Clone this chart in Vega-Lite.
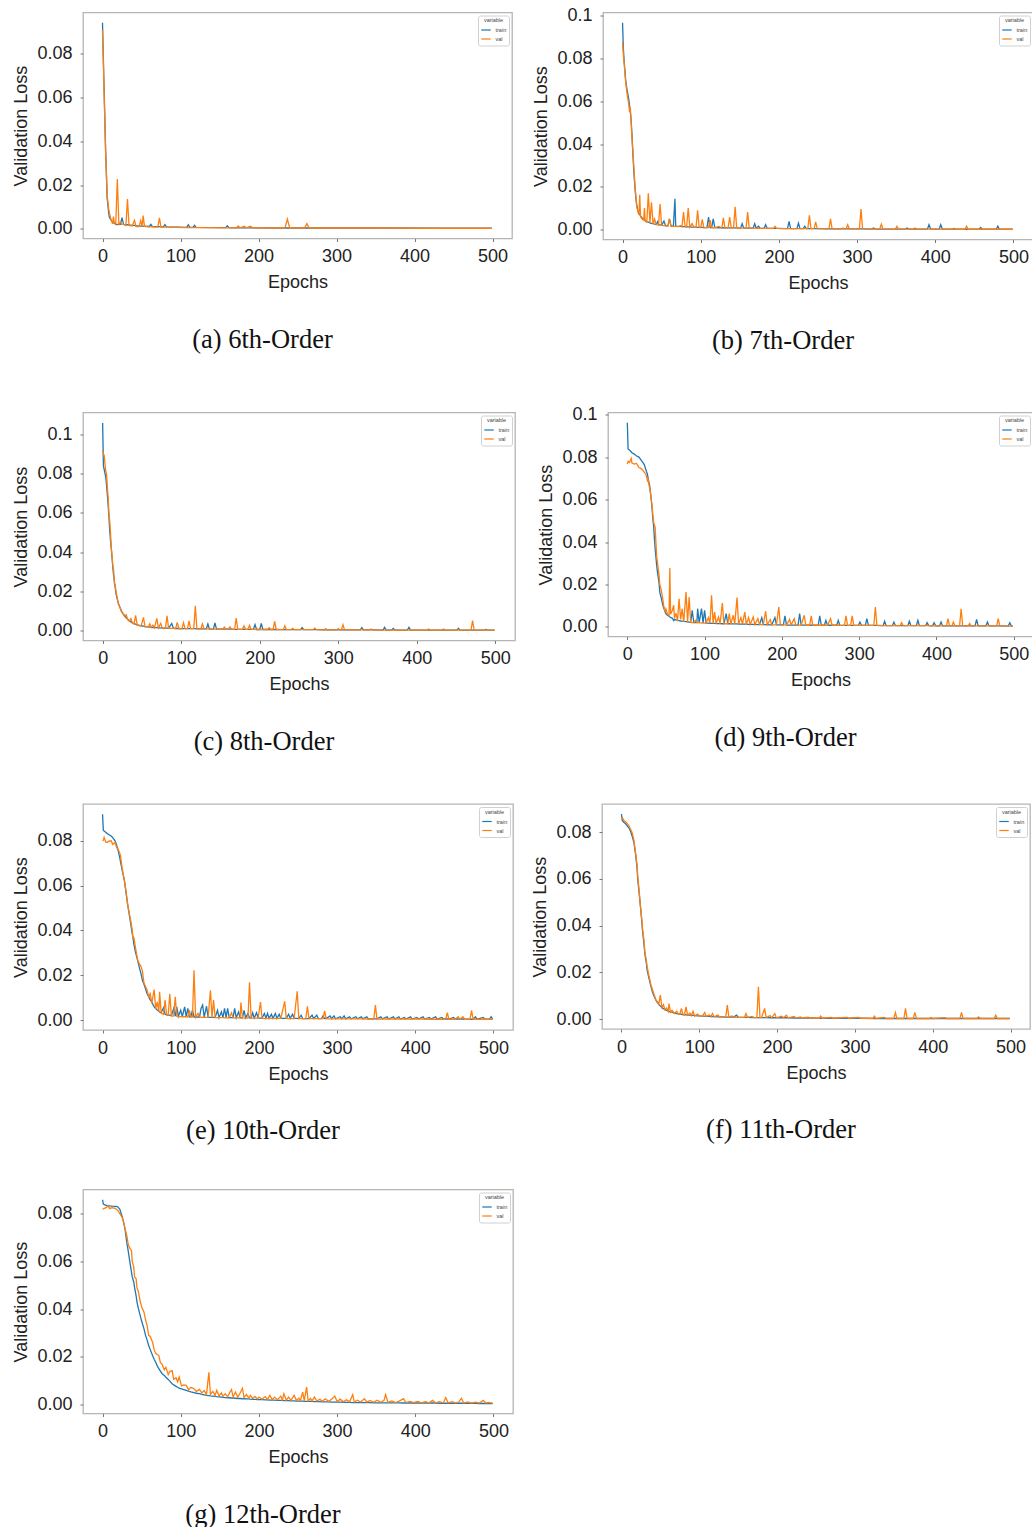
{
"$schema": "https://vega.github.io/schema/vega-lite/v6.json",
"background": "white",
"padding": {"left": 12, "top": 5.5, "right": 0, "bottom": 0},
"config": {
  "font": "Liberation Sans",
  "view": {"stroke": "#b5b5b5", "strokeWidth": 1.3},
  "axis": {"domain": false, "grid": false, "tickSize": 3, "tickColor": "#777", "labelFontSize": 18, "labelColor": "#222", "titleFontSize": 18, "titleFontWeight": "normal", "titleColor": "#222", "labelFont": "Liberation Sans", "titleFont": "Liberation Sans"},
  "axisX": {"labelPadding": 6, "titlePadding": 8},
  "axisY": {"labelPadding": 8, "titlePadding": 6},
  "legend": {"orient": "top-right", "offset": 3, "padding": 2.5, "fillColor": "white", "strokeColor": "#d0d0d0", "cornerRadius": 2, "titleFontSize": 5.5, "titleFontWeight": "normal", "titleColor": "#444", "labelFontSize": 5.5, "labelColor": "#444", "symbolType": "stroke", "symbolSize": 90, "symbolStrokeWidth": 1.2, "rowPadding": 0, "titlePadding": 1, "titleAnchor": "middle", "labelOffset": 4},
  "title": {"font": "Liberation Serif", "fontSize": 26.5, "fontWeight": "normal", "color": "#111", "orient": "bottom", "anchor": "middle", "frame": "bounds", "offset": 35}
},
"datasets": {
"a": [
{"e":0,"train":0.0943,"val":0.091},{"e":2,"train":0.065,"val":0.063},{"e":4,"train":0.036,"val":0.035},{"e":6,"train":0.014,"val":0.015},{"e":8,"train":0.007,"val":0.009},{"e":9,"train":0.005,"val":0.007},{"e":11,"train":0.004,"val":0.004},{"e":13,"train":0.003,"val":0.0022},{"e":14,"train":0.0028,"val":0.0055},{"e":15,"train":0.0025,"val":0.003},{"e":17,"train":0.002,"val":0.002},{"e":19,"train":0.002,"val":0.0227},{"e":21,"train":0.002,"val":0.002},{"e":23,"train":0.002,"val":0.003},{"e":25,"train":0.005,"val":0.002},{"e":27,"train":0.002,"val":0.002},{"e":30,"train":0.0018,"val":0.0015},{"e":32,"train":0.0018,"val":0.0136},{"e":34,"train":0.0017,"val":0.0015},{"e":38,"train":0.0015,"val":0.0012},{"e":41,"train":0.0015,"val":0.0038},{"e":43,"train":0.0013,"val":0.001},{"e":47,"train":0.0013,"val":0.001},{"e":49,"train":0.0012,"val":0.0037},{"e":51,"train":0.0012,"val":0.001},{"e":52,"train":0.0012,"val":0.006},{"e":54,"train":0.0011,"val":0.001},{"e":60,"train":0.001,"val":0.0008},{"e":62,"train":0.002,"val":0.0008},{"e":64,"train":0.0009,"val":0.0008},{"e":71,"train":0.0009,"val":0.0007},{"e":73,"train":0.0009,"val":0.0049},{"e":75,"train":0.0008,"val":0.0007},{"e":78,"train":0.0008,"val":0.0007},{"e":80,"train":0.0018,"val":0.0007},{"e":82,"train":0.0008,"val":0.0007},{"e":108,"train":0.0006,"val":0.0005},{"e":110,"train":0.0018,"val":0.0005},{"e":112,"train":0.0006,"val":0.0005},{"e":116,"train":0.0006,"val":0.0005},{"e":118,"train":0.0015,"val":0.0005},{"e":120,"train":0.0006,"val":0.0005},{"e":158,"train":0.0005,"val":0.0004},{"e":160,"train":0.0013,"val":0.0004},{"e":162,"train":0.0005,"val":0.0004},{"e":172,"train":0.0004,"val":0.0004},{"e":174,"train":0.0004,"val":0.0012},{"e":176,"train":0.0004,"val":0.0004},{"e":182,"train":0.0004,"val":0.0011},{"e":184,"train":0.0004,"val":0.0004},{"e":190,"train":0.0004,"val":0.0011},{"e":192,"train":0.0004,"val":0.0004},{"e":234,"train":0.0003,"val":0.0003},{"e":237,"train":0.0003,"val":0.0044},{"e":240,"train":0.0003,"val":0.0003},{"e":259,"train":0.0003,"val":0.0003},{"e":262,"train":0.0003,"val":0.0023},{"e":265,"train":0.0003,"val":0.0003},{"e":350,"train":0.0003,"val":0.0003},{"e":430,"train":0.0002,"val":0.0002},{"e":499,"train":0.0002,"val":0.0002}
],
"b": [
{"e":0,"train":0.0968,"val":0.0878},{"e":1,"train":0.085,"val":0.082},{"e":2,"train":0.079,"val":0.078},{"e":4,"train":0.07,"val":0.069},{"e":5,"train":0.067,"val":0.066},{"e":6,"train":0.065,"val":0.063},{"e":7,"train":0.063,"val":0.061},{"e":8,"train":0.061,"val":0.0585},{"e":9,"train":0.058,"val":0.055},{"e":10,"train":0.055,"val":0.057},{"e":11,"train":0.051,"val":0.05},{"e":12,"train":0.045,"val":0.043},{"e":13,"train":0.037,"val":0.038},{"e":14,"train":0.03,"val":0.032},{"e":15,"train":0.024,"val":0.026},{"e":16,"train":0.019,"val":0.02},{"e":17,"train":0.015,"val":0.016},{"e":18,"train":0.012,"val":0.011},{"e":19,"train":0.01,"val":0.0095},{"e":20,"train":0.0085,"val":0.008},{"e":21,"train":0.0075,"val":0.007},{"e":22,"train":0.007,"val":0.0163},{"e":23,"train":0.0065,"val":0.006},{"e":25,"train":0.0055,"val":0.005},{"e":27,"train":0.0048,"val":0.0045},{"e":28,"train":0.0045,"val":0.0101},{"e":29,"train":0.0042,"val":0.004},{"e":31,"train":0.0038,"val":0.0035},{"e":33,"train":0.0035,"val":0.017},{"e":35,"train":0.0032,"val":0.003},{"e":37,"train":0.003,"val":0.0128},{"e":39,"train":0.0028,"val":0.0026},{"e":41,"train":0.0026,"val":0.005},{"e":43,"train":0.0025,"val":0.0023},{"e":45,"train":0.0038,"val":0.0022},{"e":46,"train":0.0023,"val":0.0021},{"e":48,"train":0.0022,"val":0.012},{"e":50,"train":0.0021,"val":0.002},{"e":53,"train":0.004,"val":0.0019},{"e":55,"train":0.0019,"val":0.0018},{"e":58,"train":0.0018,"val":0.0017},{"e":60,"train":0.005,"val":0.005},{"e":62,"train":0.0017,"val":0.0016},{"e":65,"train":0.0016,"val":0.0015},{"e":67,"train":0.0145,"val":0.0015},{"e":68,"train":0.0016,"val":0.0015},{"e":72,"train":0.0015,"val":0.0014},{"e":74,"train":0.0015,"val":0.0019},{"e":76,"train":0.0014,"val":0.0014},{"e":78,"train":0.0014,"val":0.0082},{"e":80,"train":0.0014,"val":0.0013},{"e":82,"train":0.0013,"val":0.0013},{"e":84,"train":0.0013,"val":0.0101},{"e":86,"train":0.0013,"val":0.0012},{"e":89,"train":0.0012,"val":0.0028},{"e":91,"train":0.0012,"val":0.0012},{"e":94,"train":0.0012,"val":0.0011},{"e":96,"train":0.0011,"val":0.009},{"e":98,"train":0.0011,"val":0.0011},{"e":100,"train":0.0011,"val":0.001},{"e":102,"train":0.0011,"val":0.0048},{"e":104,"train":0.001,"val":0.001},{"e":108,"train":0.001,"val":0.001},{"e":110,"train":0.0059,"val":0.001},{"e":112,"train":0.001,"val":0.0045},{"e":114,"train":0.001,"val":0.0009},{"e":116,"train":0.005,"val":0.0009},{"e":118,"train":0.001,"val":0.0009},{"e":123,"train":0.0009,"val":0.0015},{"e":127,"train":0.0009,"val":0.0009},{"e":129,"train":0.0009,"val":0.0055},{"e":131,"train":0.0009,"val":0.0008},{"e":135,"train":0.0008,"val":0.0008},{"e":137,"train":0.0008,"val":0.0059},{"e":139,"train":0.0008,"val":0.0008},{"e":142,"train":0.0008,"val":0.0008},{"e":144,"train":0.0008,"val":0.0107},{"e":146,"train":0.0008,"val":0.0007},{"e":151,"train":0.0007,"val":0.0007},{"e":153,"train":0.0028,"val":0.0007},{"e":155,"train":0.0007,"val":0.0007},{"e":158,"train":0.0007,"val":0.0007},{"e":160,"train":0.0007,"val":0.0082},{"e":162,"train":0.0007,"val":0.0007},{"e":167,"train":0.0007,"val":0.0007},{"e":169,"train":0.0028,"val":0.0007},{"e":171,"train":0.0007,"val":0.0006},{"e":174,"train":0.0016,"val":0.0006},{"e":176,"train":0.0006,"val":0.0006},{"e":181,"train":0.0006,"val":0.0006},{"e":183,"train":0.0023,"val":0.0006},{"e":185,"train":0.0006,"val":0.0006},{"e":193,"train":0.0006,"val":0.0006},{"e":195,"train":0.0006,"val":0.0016},{"e":197,"train":0.0006,"val":0.0006},{"e":211,"train":0.0005,"val":0.0005},{"e":213,"train":0.0039,"val":0.0005},{"e":215,"train":0.0005,"val":0.0005},{"e":223,"train":0.0005,"val":0.0005},{"e":225,"train":0.0031,"val":0.0005},{"e":227,"train":0.0005,"val":0.0005},{"e":231,"train":0.0005,"val":0.0005},{"e":233,"train":0.0016,"val":0.0005},{"e":235,"train":0.0005,"val":0.0005},{"e":237,"train":0.0005,"val":0.0005},{"e":239,"train":0.0005,"val":0.0067},{"e":241,"train":0.0005,"val":0.0005},{"e":245,"train":0.0005,"val":0.0005},{"e":247,"train":0.0005,"val":0.0036},{"e":249,"train":0.0005,"val":0.0005},{"e":264,"train":0.0004,"val":0.0004},{"e":266,"train":0.0004,"val":0.0051},{"e":268,"train":0.0004,"val":0.0004},{"e":280,"train":0.0004,"val":0.0004},{"e":282,"train":0.0004,"val":0.0008},{"e":284,"train":0.0004,"val":0.0004},{"e":286,"train":0.0004,"val":0.0004},{"e":288,"train":0.0004,"val":0.0023},{"e":290,"train":0.0004,"val":0.0004},{"e":303,"train":0.0004,"val":0.0004},{"e":305,"train":0.0004,"val":0.0096},{"e":307,"train":0.0004,"val":0.0004},{"e":319,"train":0.0003,"val":0.0003},{"e":321,"train":0.0008,"val":0.0003},{"e":323,"train":0.0003,"val":0.0003},{"e":329,"train":0.0003,"val":0.0003},{"e":331,"train":0.0003,"val":0.0026},{"e":333,"train":0.0003,"val":0.0003},{"e":349,"train":0.0003,"val":0.0003},{"e":351,"train":0.0003,"val":0.0016},{"e":353,"train":0.0003,"val":0.0003},{"e":362,"train":0.0003,"val":0.0003},{"e":364,"train":0.0008,"val":0.0003},{"e":366,"train":0.0003,"val":0.0003},{"e":372,"train":0.0003,"val":0.0003},{"e":374,"train":0.0003,"val":0.0008},{"e":376,"train":0.0003,"val":0.0003},{"e":390,"train":0.0003,"val":0.0003},{"e":392,"train":0.0023,"val":0.0003},{"e":394,"train":0.0003,"val":0.0003},{"e":405,"train":0.0003,"val":0.0003},{"e":407,"train":0.0023,"val":0.0003},{"e":409,"train":0.0003,"val":0.0003},{"e":422,"train":0.0002,"val":0.0002},{"e":424,"train":0.0006,"val":0.0002},{"e":426,"train":0.0002,"val":0.0002},{"e":438,"train":0.0002,"val":0.0002},{"e":440,"train":0.0002,"val":0.0016},{"e":442,"train":0.0002,"val":0.0002},{"e":456,"train":0.0002,"val":0.0002},{"e":458,"train":0.001,"val":0.0002},{"e":460,"train":0.0002,"val":0.0002},{"e":478,"train":0.0002,"val":0.0002},{"e":480,"train":0.0016,"val":0.0002},{"e":482,"train":0.0002,"val":0.0002},{"e":499,"train":0.0002,"val":0.0002}
],
"c": [
{"e":0,"train":0.1057,"val":0.0917},{"e":1,"train":0.0838,"val":0.09},{"e":2,"train":0.082,"val":0.089},{"e":3,"train":0.08,"val":0.085},{"e":4,"train":0.078,"val":0.081},{"e":5,"train":0.074,"val":0.0795},{"e":6,"train":0.069,"val":0.073},{"e":7,"train":0.064,"val":0.0677},{"e":8,"train":0.058,"val":0.06},{"e":9,"train":0.051,"val":0.0558},{"e":10,"train":0.046,"val":0.05},{"e":11,"train":0.042,"val":0.042},{"e":12,"train":0.037,"val":0.038},{"e":13,"train":0.032,"val":0.033},{"e":14,"train":0.028,"val":0.031},{"e":15,"train":0.025,"val":0.024},{"e":16,"train":0.022,"val":0.023},{"e":17,"train":0.019,"val":0.02},{"e":18,"train":0.017,"val":0.018},{"e":20,"train":0.014,"val":0.0135},{"e":22,"train":0.0118,"val":0.012},{"e":24,"train":0.01,"val":0.0095},{"e":26,"train":0.0087,"val":0.0085},{"e":28,"train":0.0076,"val":0.0072},{"e":30,"train":0.0066,"val":0.0081},{"e":32,"train":0.0058,"val":0.0055},{"e":34,"train":0.005,"val":0.0048},{"e":36,"train":0.0045,"val":0.0062},{"e":38,"train":0.004,"val":0.0038},{"e":40,"train":0.0036,"val":0.0034},{"e":42,"train":0.0033,"val":0.0078},{"e":44,"train":0.003,"val":0.0029},{"e":47,"train":0.0027,"val":0.0025},{"e":49,"train":0.0025,"val":0.0024},{"e":52,"train":0.0023,"val":0.0068},{"e":54,"train":0.0021,"val":0.002},{"e":58,"train":0.0019,"val":0.0018},{"e":60,"train":0.0018,"val":0.0035},{"e":62,"train":0.0017,"val":0.0017},{"e":64,"train":0.0016,"val":0.0028},{"e":66,"train":0.0016,"val":0.0015},{"e":69,"train":0.0015,"val":0.0063},{"e":71,"train":0.0014,"val":0.0014},{"e":74,"train":0.0014,"val":0.0037},{"e":76,"train":0.0013,"val":0.0013},{"e":80,"train":0.0013,"val":0.0013},{"e":82,"train":0.0013,"val":0.0076},{"e":84,"train":0.0012,"val":0.0012},{"e":88,"train":0.0037,"val":0.0012},{"e":90,"train":0.0012,"val":0.0012},{"e":93,"train":0.0011,"val":0.0011},{"e":95,"train":0.0011,"val":0.0042},{"e":97,"train":0.0011,"val":0.0011},{"e":101,"train":0.001,"val":0.001},{"e":103,"train":0.001,"val":0.004},{"e":105,"train":0.001,"val":0.001},{"e":108,"train":0.001,"val":0.001},{"e":110,"train":0.001,"val":0.005},{"e":112,"train":0.001,"val":0.001},{"e":116,"train":0.001,"val":0.001},{"e":118,"train":0.001,"val":0.0127},{"e":120,"train":0.0009,"val":0.0009},{"e":125,"train":0.0009,"val":0.0009},{"e":127,"train":0.0009,"val":0.0034},{"e":129,"train":0.0009,"val":0.0009},{"e":132,"train":0.0009,"val":0.0009},{"e":134,"train":0.0034,"val":0.0009},{"e":136,"train":0.0008,"val":0.0008},{"e":141,"train":0.0008,"val":0.0008},{"e":143,"train":0.0039,"val":0.0008},{"e":145,"train":0.0008,"val":0.0008},{"e":153,"train":0.0008,"val":0.0008},{"e":155,"train":0.0008,"val":0.0018},{"e":157,"train":0.0008,"val":0.0008},{"e":160,"train":0.0008,"val":0.0008},{"e":162,"train":0.0008,"val":0.0019},{"e":164,"train":0.0008,"val":0.0008},{"e":168,"train":0.0007,"val":0.0007},{"e":170,"train":0.0007,"val":0.0064},{"e":172,"train":0.0007,"val":0.0007},{"e":178,"train":0.0007,"val":0.0007},{"e":180,"train":0.0007,"val":0.0025},{"e":182,"train":0.0007,"val":0.0007},{"e":185,"train":0.0007,"val":0.0007},{"e":187,"train":0.0007,"val":0.0027},{"e":189,"train":0.0007,"val":0.0007},{"e":192,"train":0.0007,"val":0.0007},{"e":194,"train":0.0031,"val":0.0007},{"e":196,"train":0.0006,"val":0.0006},{"e":200,"train":0.0006,"val":0.0006},{"e":202,"train":0.0037,"val":0.0006},{"e":204,"train":0.0006,"val":0.0006},{"e":210,"train":0.0006,"val":0.0006},{"e":212,"train":0.0006,"val":0.0015},{"e":214,"train":0.0006,"val":0.0006},{"e":217,"train":0.0006,"val":0.0006},{"e":219,"train":0.0006,"val":0.0047},{"e":221,"train":0.0006,"val":0.0006},{"e":230,"train":0.0005,"val":0.0005},{"e":232,"train":0.0005,"val":0.0025},{"e":234,"train":0.0005,"val":0.0005},{"e":240,"train":0.0005,"val":0.0005},{"e":242,"train":0.0005,"val":0.0012},{"e":244,"train":0.0005,"val":0.0005},{"e":252,"train":0.0005,"val":0.0005},{"e":254,"train":0.0016,"val":0.0005},{"e":256,"train":0.0005,"val":0.0005},{"e":268,"train":0.0005,"val":0.0005},{"e":270,"train":0.0005,"val":0.0013},{"e":272,"train":0.0005,"val":0.0005},{"e":282,"train":0.0004,"val":0.0004},{"e":284,"train":0.0004,"val":0.0011},{"e":286,"train":0.0004,"val":0.0004},{"e":298,"train":0.0004,"val":0.0004},{"e":300,"train":0.0004,"val":0.0011},{"e":302,"train":0.0004,"val":0.0004},{"e":304,"train":0.0004,"val":0.0004},{"e":306,"train":0.0004,"val":0.003},{"e":308,"train":0.0004,"val":0.0004},{"e":328,"train":0.0004,"val":0.0004},{"e":330,"train":0.0015,"val":0.0004},{"e":332,"train":0.0004,"val":0.0004},{"e":340,"train":0.0004,"val":0.0004},{"e":342,"train":0.0004,"val":0.0008},{"e":344,"train":0.0004,"val":0.0004},{"e":357,"train":0.0003,"val":0.0003},{"e":359,"train":0.0017,"val":0.0003},{"e":361,"train":0.0003,"val":0.0003},{"e":368,"train":0.0003,"val":0.0003},{"e":370,"train":0.0011,"val":0.0003},{"e":372,"train":0.0003,"val":0.0003},{"e":388,"train":0.0003,"val":0.0003},{"e":390,"train":0.0017,"val":0.0003},{"e":392,"train":0.0003,"val":0.0003},{"e":413,"train":0.0003,"val":0.0003},{"e":415,"train":0.0003,"val":0.0008},{"e":417,"train":0.0003,"val":0.0003},{"e":432,"train":0.0003,"val":0.0003},{"e":434,"train":0.0003,"val":0.0008},{"e":436,"train":0.0003,"val":0.0003},{"e":451,"train":0.0003,"val":0.0003},{"e":453,"train":0.0012,"val":0.0003},{"e":455,"train":0.0003,"val":0.0003},{"e":469,"train":0.0003,"val":0.0003},{"e":471,"train":0.0003,"val":0.0051},{"e":473,"train":0.0003,"val":0.0003},{"e":486,"train":0.0003,"val":0.0003},{"e":488,"train":0.0006,"val":0.0003},{"e":490,"train":0.0003,"val":0.0003},{"e":499,"train":0.0003,"val":0.0003}
],
"d": [
{"e":0,"train":0.0962,"val":0.0767},{"e":1,"train":0.0838,"val":0.078},{"e":3,"train":0.0832,"val":0.0775},{"e":5,"train":0.0825,"val":0.0794},{"e":6,"train":0.082,"val":0.0772},{"e":9,"train":0.0814,"val":0.0767},{"e":12,"train":0.0805,"val":0.077},{"e":15,"train":0.08,"val":0.0751},{"e":17,"train":0.079,"val":0.0748},{"e":20,"train":0.0775,"val":0.0738},{"e":22,"train":0.0765,"val":0.0728},{"e":24,"train":0.074,"val":0.072},{"e":26,"train":0.072,"val":0.0689},{"e":27,"train":0.07,"val":0.0695},{"e":28,"train":0.068,"val":0.067},{"e":29,"train":0.0665,"val":0.065},{"e":30,"train":0.063,"val":0.0634},{"e":31,"train":0.06,"val":0.06},{"e":32,"train":0.056,"val":0.0571},{"e":33,"train":0.051,"val":0.053},{"e":34,"train":0.0477,"val":0.0493},{"e":35,"train":0.042,"val":0.048},{"e":36,"train":0.0368,"val":0.047},{"e":37,"train":0.033,"val":0.04},{"e":38,"train":0.029,"val":0.033},{"e":39,"train":0.0258,"val":0.0305},{"e":41,"train":0.021,"val":0.0243},{"e":42,"train":0.0164,"val":0.02},{"e":44,"train":0.0135,"val":0.0172},{"e":46,"train":0.0102,"val":0.013},{"e":47,"train":0.009,"val":0.0102},{"e":49,"train":0.007,"val":0.007},{"e":50,"train":0.0062,"val":0.0085},{"e":52,"train":0.0055,"val":0.006},{"e":54,"train":0.005,"val":0.0055},{"e":55,"train":0.0047,"val":0.0277},{"e":56,"train":0.0045,"val":0.006},{"e":58,"train":0.0042,"val":0.0075},{"e":60,"train":0.003,"val":0.0102},{"e":61,"train":0.0035,"val":0.004},{"e":63,"train":0.0033,"val":0.0065},{"e":65,"train":0.0031,"val":0.0028},{"e":67,"train":0.003,"val":0.0133},{"e":69,"train":0.0028,"val":0.0035},{"e":71,"train":0.0027,"val":0.0085},{"e":73,"train":0.0026,"val":0.0025},{"e":76,"train":0.0025,"val":0.0164},{"e":78,"train":0.0024,"val":0.0022},{"e":80,"train":0.0023,"val":0.0141},{"e":82,"train":0.0022,"val":0.0021},{"e":84,"train":0.0078,"val":0.002},{"e":86,"train":0.0021,"val":0.002},{"e":88,"train":0.0021,"val":0.0031},{"e":90,"train":0.0021,"val":0.002},{"e":91,"train":0.0086,"val":0.002},{"e":93,"train":0.002,"val":0.0019},{"e":96,"train":0.0086,"val":0.0019},{"e":98,"train":0.0019,"val":0.0018},{"e":100,"train":0.0078,"val":0.0018},{"e":102,"train":0.0018,"val":0.0018},{"e":105,"train":0.0018,"val":0.0044},{"e":107,"train":0.0017,"val":0.0017},{"e":109,"train":0.0017,"val":0.0149},{"e":111,"train":0.0017,"val":0.0016},{"e":113,"train":0.0017,"val":0.007},{"e":115,"train":0.0016,"val":0.0016},{"e":118,"train":0.0016,"val":0.0047},{"e":120,"train":0.0016,"val":0.0015},{"e":123,"train":0.0015,"val":0.0113},{"e":125,"train":0.0015,"val":0.0015},{"e":128,"train":0.0063,"val":0.0015},{"e":130,"train":0.0015,"val":0.0015},{"e":132,"train":0.0015,"val":0.0063},{"e":134,"train":0.0014,"val":0.0014},{"e":137,"train":0.0014,"val":0.0055},{"e":139,"train":0.0014,"val":0.0014},{"e":142,"train":0.0014,"val":0.0138},{"e":144,"train":0.0013,"val":0.0013},{"e":147,"train":0.0013,"val":0.0044},{"e":149,"train":0.0013,"val":0.0013},{"e":152,"train":0.0013,"val":0.007},{"e":154,"train":0.0013,"val":0.0012},{"e":157,"train":0.0012,"val":0.0044},{"e":159,"train":0.0012,"val":0.0012},{"e":163,"train":0.0012,"val":0.0047},{"e":165,"train":0.0012,"val":0.0011},{"e":169,"train":0.0011,"val":0.0039},{"e":171,"train":0.0011,"val":0.0011},{"e":174,"train":0.0044,"val":0.0011},{"e":176,"train":0.0011,"val":0.0011},{"e":179,"train":0.0011,"val":0.0074},{"e":181,"train":0.0011,"val":0.001},{"e":185,"train":0.001,"val":0.0035},{"e":187,"train":0.001,"val":0.001},{"e":191,"train":0.0044,"val":0.001},{"e":193,"train":0.001,"val":0.001},{"e":196,"train":0.001,"val":0.0094},{"e":198,"train":0.001,"val":0.001},{"e":202,"train":0.001,"val":0.001},{"e":204,"train":0.0052,"val":0.001},{"e":206,"train":0.0009,"val":0.0009},{"e":210,"train":0.0009,"val":0.0035},{"e":212,"train":0.0009,"val":0.0009},{"e":216,"train":0.0009,"val":0.0039},{"e":218,"train":0.0009,"val":0.0009},{"e":221,"train":0.0009,"val":0.0009},{"e":223,"train":0.0063,"val":0.0009},{"e":225,"train":0.0009,"val":0.0009},{"e":229,"train":0.0009,"val":0.0055},{"e":231,"train":0.0008,"val":0.0008},{"e":236,"train":0.0008,"val":0.0008},{"e":238,"train":0.0008,"val":0.0052},{"e":240,"train":0.0008,"val":0.0008},{"e":247,"train":0.0008,"val":0.0008},{"e":249,"train":0.0052,"val":0.0008},{"e":251,"train":0.0008,"val":0.0008},{"e":255,"train":0.0008,"val":0.0008},{"e":257,"train":0.0031,"val":0.0008},{"e":259,"train":0.0008,"val":0.0008},{"e":263,"train":0.0008,"val":0.0039},{"e":265,"train":0.0008,"val":0.0008},{"e":271,"train":0.0008,"val":0.0008},{"e":273,"train":0.0031,"val":0.0008},{"e":275,"train":0.0007,"val":0.0007},{"e":281,"train":0.0007,"val":0.0007},{"e":283,"train":0.0007,"val":0.0052},{"e":285,"train":0.0007,"val":0.0007},{"e":289,"train":0.0007,"val":0.0007},{"e":291,"train":0.0007,"val":0.0052},{"e":293,"train":0.0007,"val":0.0007},{"e":299,"train":0.0007,"val":0.0007},{"e":301,"train":0.0023,"val":0.0007},{"e":303,"train":0.0007,"val":0.0007},{"e":308,"train":0.0007,"val":0.0007},{"e":310,"train":0.0039,"val":0.0007},{"e":312,"train":0.0007,"val":0.0007},{"e":319,"train":0.0007,"val":0.0007},{"e":321,"train":0.0007,"val":0.0094},{"e":323,"train":0.0007,"val":0.0007},{"e":331,"train":0.0006,"val":0.0006},{"e":333,"train":0.0027,"val":0.0006},{"e":335,"train":0.0006,"val":0.0006},{"e":343,"train":0.0006,"val":0.0006},{"e":345,"train":0.0023,"val":0.0006},{"e":347,"train":0.0006,"val":0.0006},{"e":353,"train":0.0006,"val":0.0006},{"e":355,"train":0.0006,"val":0.002},{"e":357,"train":0.0006,"val":0.0006},{"e":363,"train":0.0006,"val":0.0006},{"e":365,"train":0.0027,"val":0.0006},{"e":367,"train":0.0006,"val":0.0006},{"e":374,"train":0.0006,"val":0.0006},{"e":376,"train":0.0031,"val":0.0006},{"e":378,"train":0.0006,"val":0.0006},{"e":386,"train":0.0006,"val":0.0006},{"e":388,"train":0.002,"val":0.0006},{"e":390,"train":0.0006,"val":0.0006},{"e":395,"train":0.0005,"val":0.0005},{"e":397,"train":0.002,"val":0.0005},{"e":399,"train":0.0005,"val":0.0005},{"e":404,"train":0.0005,"val":0.0005},{"e":406,"train":0.0023,"val":0.0005},{"e":408,"train":0.0005,"val":0.0005},{"e":413,"train":0.0005,"val":0.0005},{"e":415,"train":0.0005,"val":0.0039},{"e":417,"train":0.0005,"val":0.0005},{"e":420,"train":0.0005,"val":0.0005},{"e":422,"train":0.0005,"val":0.0023},{"e":424,"train":0.0005,"val":0.0005},{"e":430,"train":0.0005,"val":0.0005},{"e":432,"train":0.0005,"val":0.0086},{"e":434,"train":0.0005,"val":0.0005},{"e":441,"train":0.0005,"val":0.0005},{"e":443,"train":0.0005,"val":0.0016},{"e":445,"train":0.0005,"val":0.0005},{"e":450,"train":0.0005,"val":0.0005},{"e":452,"train":0.0035,"val":0.0005},{"e":454,"train":0.0005,"val":0.0005},{"e":464,"train":0.0005,"val":0.0005},{"e":466,"train":0.0023,"val":0.0005},{"e":468,"train":0.0005,"val":0.0005},{"e":478,"train":0.0005,"val":0.0005},{"e":480,"train":0.0005,"val":0.0039},{"e":482,"train":0.0005,"val":0.0005},{"e":493,"train":0.0004,"val":0.0004},{"e":495,"train":0.002,"val":0.0004},{"e":497,"train":0.0004,"val":0.0004},{"e":499,"train":0.0004,"val":0.0004}
],
"e": [
{"e":0,"train":0.0918,"val":0.08},{"e":1,"train":0.0847,"val":0.0802},{"e":2,"train":0.0843,"val":0.0815},{"e":4,"train":0.0838,"val":0.0795},{"e":6,"train":0.0832,"val":0.0792},{"e":8,"train":0.0828,"val":0.0798},{"e":11,"train":0.0821,"val":0.08},{"e":13,"train":0.0814,"val":0.0784},{"e":16,"train":0.08,"val":0.0792},{"e":18,"train":0.078,"val":0.077},{"e":20,"train":0.0755,"val":0.0762},{"e":22,"train":0.0725,"val":0.0745},{"e":23,"train":0.0706,"val":0.0733},{"e":25,"train":0.067,"val":0.068},{"e":28,"train":0.0622,"val":0.062},{"e":30,"train":0.057,"val":0.0575},{"e":32,"train":0.0518,"val":0.052},{"e":34,"train":0.0475,"val":0.048},{"e":36,"train":0.043,"val":0.0445},{"e":38,"train":0.0385,"val":0.04},{"e":39,"train":0.037,"val":0.036},{"e":40,"train":0.034,"val":0.037},{"e":42,"train":0.0305,"val":0.0326},{"e":45,"train":0.0266,"val":0.0266},{"e":47,"train":0.0235,"val":0.0252},{"e":49,"train":0.021,"val":0.024},{"e":51,"train":0.0178,"val":0.022},{"e":53,"train":0.016,"val":0.0165},{"e":55,"train":0.014,"val":0.015},{"e":57,"train":0.0118,"val":0.0133},{"e":59,"train":0.0105,"val":0.0104},{"e":61,"train":0.009,"val":0.0118},{"e":63,"train":0.008,"val":0.0075},{"e":66,"train":0.0059,"val":0.0136},{"e":68,"train":0.0052,"val":0.005},{"e":70,"train":0.0045,"val":0.0081},{"e":72,"train":0.004,"val":0.0038},{"e":73,"train":0.0036,"val":0.0126},{"e":75,"train":0.0033,"val":0.003},{"e":78,"train":0.0055,"val":0.0026},{"e":80,"train":0.0026,"val":0.0089},{"e":82,"train":0.0024,"val":0.0022},{"e":84,"train":0.0022,"val":0.0022},{"e":86,"train":0.0022,"val":0.0118},{"e":88,"train":0.002,"val":0.0019},{"e":91,"train":0.0052,"val":0.0018},{"e":93,"train":0.0018,"val":0.0104},{"e":95,"train":0.0059,"val":0.0017},{"e":97,"train":0.0017,"val":0.0016},{"e":100,"train":0.0044,"val":0.0016},{"e":102,"train":0.0016,"val":0.0015},{"e":105,"train":0.0059,"val":0.0015},{"e":107,"train":0.0015,"val":0.0015},{"e":109,"train":0.0052,"val":0.0014},{"e":111,"train":0.0015,"val":0.0044},{"e":113,"train":0.0015,"val":0.0014},{"e":115,"train":0.0044,"val":0.0014},{"e":117,"train":0.0014,"val":0.0222},{"e":119,"train":0.0014,"val":0.0013},{"e":122,"train":0.0014,"val":0.003},{"e":124,"train":0.0013,"val":0.0013},{"e":126,"train":0.0052,"val":0.0013},{"e":128,"train":0.0067,"val":0.0012},{"e":130,"train":0.0013,"val":0.0012},{"e":133,"train":0.0062,"val":0.0012},{"e":135,"train":0.0012,"val":0.0012},{"e":138,"train":0.0012,"val":0.0133},{"e":140,"train":0.0012,"val":0.0011},{"e":142,"train":0.0012,"val":0.0089},{"e":144,"train":0.0012,"val":0.0011},{"e":147,"train":0.0044,"val":0.0011},{"e":149,"train":0.0011,"val":0.0011},{"e":152,"train":0.0037,"val":0.0011},{"e":154,"train":0.0011,"val":0.0011},{"e":156,"train":0.0052,"val":0.001},{"e":158,"train":0.0011,"val":0.001},{"e":160,"train":0.0052,"val":0.001},{"e":162,"train":0.0011,"val":0.001},{"e":165,"train":0.0011,"val":0.0033},{"e":167,"train":0.0011,"val":0.001},{"e":169,"train":0.0052,"val":0.001},{"e":171,"train":0.001,"val":0.001},{"e":174,"train":0.0037,"val":0.001},{"e":176,"train":0.001,"val":0.001},{"e":177,"train":0.001,"val":0.0078},{"e":179,"train":0.001,"val":0.001},{"e":181,"train":0.0044,"val":0.0009},{"e":183,"train":0.001,"val":0.0009},{"e":186,"train":0.003,"val":0.0009},{"e":188,"train":0.001,"val":0.0169},{"e":190,"train":0.0009,"val":0.0009},{"e":192,"train":0.0033,"val":0.0009},{"e":194,"train":0.0009,"val":0.0009},{"e":197,"train":0.0033,"val":0.0009},{"e":199,"train":0.0009,"val":0.0009},{"e":202,"train":0.0009,"val":0.0081},{"e":204,"train":0.0009,"val":0.0008},{"e":207,"train":0.003,"val":0.0008},{"e":209,"train":0.0009,"val":0.0008},{"e":211,"train":0.003,"val":0.0008},{"e":213,"train":0.0008,"val":0.0008},{"e":216,"train":0.0026,"val":0.0008},{"e":218,"train":0.0008,"val":0.0008},{"e":221,"train":0.003,"val":0.0008},{"e":223,"train":0.0008,"val":0.0008},{"e":226,"train":0.0026,"val":0.0008},{"e":228,"train":0.0008,"val":0.0008},{"e":233,"train":0.0008,"val":0.0084},{"e":235,"train":0.0008,"val":0.0008},{"e":238,"train":0.0026,"val":0.0007},{"e":240,"train":0.0008,"val":0.0007},{"e":243,"train":0.0026,"val":0.0007},{"e":245,"train":0.0008,"val":0.0007},{"e":249,"train":0.0008,"val":0.0129},{"e":251,"train":0.0007,"val":0.0007},{"e":254,"train":0.0022,"val":0.0007},{"e":256,"train":0.0007,"val":0.0007},{"e":260,"train":0.0007,"val":0.0007},{"e":262,"train":0.0007,"val":0.0062},{"e":264,"train":0.0007,"val":0.0007},{"e":268,"train":0.0022,"val":0.0007},{"e":270,"train":0.0007,"val":0.0007},{"e":274,"train":0.0022,"val":0.0007},{"e":276,"train":0.0007,"val":0.0007},{"e":280,"train":0.0007,"val":0.0007},{"e":282,"train":0.0019,"val":0.0007},{"e":284,"train":0.0007,"val":0.0041},{"e":286,"train":0.0007,"val":0.0007},{"e":291,"train":0.0019,"val":0.0006},{"e":293,"train":0.0007,"val":0.0006},{"e":296,"train":0.0019,"val":0.0006},{"e":298,"train":0.0006,"val":0.0006},{"e":304,"train":0.0015,"val":0.0006},{"e":306,"train":0.0006,"val":0.0006},{"e":309,"train":0.0019,"val":0.0006},{"e":311,"train":0.0006,"val":0.0006},{"e":316,"train":0.0015,"val":0.0006},{"e":318,"train":0.0006,"val":0.0006},{"e":324,"train":0.0015,"val":0.0006},{"e":326,"train":0.0006,"val":0.0006},{"e":331,"train":0.0015,"val":0.0006},{"e":333,"train":0.0006,"val":0.0006},{"e":338,"train":0.0015,"val":0.0005},{"e":340,"train":0.0006,"val":0.0005},{"e":347,"train":0.0006,"val":0.0005},{"e":349,"train":0.0006,"val":0.0067},{"e":351,"train":0.0006,"val":0.0005},{"e":356,"train":0.0015,"val":0.0005},{"e":358,"train":0.0006,"val":0.0005},{"e":364,"train":0.0015,"val":0.0005},{"e":366,"train":0.0005,"val":0.0005},{"e":372,"train":0.0015,"val":0.0005},{"e":374,"train":0.0005,"val":0.0005},{"e":379,"train":0.0015,"val":0.0005},{"e":381,"train":0.0005,"val":0.0005},{"e":386,"train":0.0012,"val":0.0005},{"e":388,"train":0.0005,"val":0.0005},{"e":394,"train":0.0015,"val":0.0005},{"e":396,"train":0.0005,"val":0.0005},{"e":402,"train":0.0012,"val":0.0005},{"e":404,"train":0.0005,"val":0.0005},{"e":410,"train":0.0015,"val":0.0005},{"e":412,"train":0.0005,"val":0.0005},{"e":418,"train":0.0012,"val":0.0004},{"e":420,"train":0.0005,"val":0.0004},{"e":426,"train":0.0015,"val":0.0004},{"e":428,"train":0.0005,"val":0.0004},{"e":434,"train":0.0012,"val":0.0004},{"e":436,"train":0.0005,"val":0.0004},{"e":439,"train":0.0005,"val":0.0004},{"e":441,"train":0.0005,"val":0.0033},{"e":443,"train":0.0005,"val":0.0004},{"e":449,"train":0.0012,"val":0.0004},{"e":451,"train":0.0005,"val":0.0004},{"e":455,"train":0.0005,"val":0.0015},{"e":457,"train":0.0005,"val":0.0004},{"e":461,"train":0.0005,"val":0.0015},{"e":463,"train":0.0004,"val":0.0004},{"e":470,"train":0.0004,"val":0.0004},{"e":472,"train":0.0004,"val":0.0044},{"e":474,"train":0.0004,"val":0.0004},{"e":477,"train":0.0015,"val":0.0004},{"e":479,"train":0.0004,"val":0.0004},{"e":487,"train":0.0012,"val":0.0004},{"e":489,"train":0.0004,"val":0.0004},{"e":495,"train":0.0004,"val":0.0004},{"e":497,"train":0.0015,"val":0.0004},{"e":499,"train":0.0004,"val":0.0004}
],
"f": [
{"e":0,"train":0.0877,"val":0.0859},{"e":1,"train":0.085,"val":0.0862},{"e":3,"train":0.0842,"val":0.085},{"e":5,"train":0.0837,"val":0.0845},{"e":7,"train":0.0828,"val":0.0838},{"e":10,"train":0.0816,"val":0.0825},{"e":12,"train":0.08,"val":0.081},{"e":14,"train":0.078,"val":0.0795},{"e":16,"train":0.0755,"val":0.0765},{"e":18,"train":0.0709,"val":0.0715},{"e":20,"train":0.065,"val":0.066},{"e":21,"train":0.0595,"val":0.061},{"e":23,"train":0.053,"val":0.054},{"e":24,"train":0.0495,"val":0.05},{"e":26,"train":0.0425,"val":0.043},{"e":27,"train":0.038,"val":0.039},{"e":29,"train":0.032,"val":0.0335},{"e":30,"train":0.0281,"val":0.029},{"e":32,"train":0.024,"val":0.025},{"e":33,"train":0.021,"val":0.0225},{"e":35,"train":0.018,"val":0.019},{"e":38,"train":0.0138,"val":0.0145},{"e":40,"train":0.0115,"val":0.0125},{"e":42,"train":0.0098,"val":0.0105},{"e":44,"train":0.0083,"val":0.0085},{"e":46,"train":0.0072,"val":0.0075},{"e":48,"train":0.0063,"val":0.0065},{"e":50,"train":0.0056,"val":0.0103},{"e":52,"train":0.005,"val":0.005},{"e":54,"train":0.0045,"val":0.0062},{"e":56,"train":0.0041,"val":0.004},{"e":58,"train":0.0038,"val":0.0048},{"e":60,"train":0.0035,"val":0.0033},{"e":61,"train":0.0033,"val":0.0067},{"e":63,"train":0.0031,"val":0.003},{"e":65,"train":0.003,"val":0.0038},{"e":68,"train":0.0026,"val":0.0025},{"e":71,"train":0.0024,"val":0.0034},{"e":73,"train":0.0023,"val":0.0022},{"e":75,"train":0.0022,"val":0.0021},{"e":77,"train":0.0021,"val":0.0046},{"e":79,"train":0.002,"val":0.0019},{"e":81,"train":0.0019,"val":0.0019},{"e":83,"train":0.0018,"val":0.0053},{"e":85,"train":0.0017,"val":0.0017},{"e":88,"train":0.0017,"val":0.0026},{"e":90,"train":0.0016,"val":0.0015},{"e":92,"train":0.0016,"val":0.0034},{"e":94,"train":0.0015,"val":0.0014},{"e":98,"train":0.0014,"val":0.0022},{"e":100,"train":0.0014,"val":0.0013},{"e":104,"train":0.0013,"val":0.0013},{"e":107,"train":0.0013,"val":0.0029},{"e":109,"train":0.0012,"val":0.0012},{"e":113,"train":0.0012,"val":0.0018},{"e":115,"train":0.0011,"val":0.0011},{"e":117,"train":0.0011,"val":0.0024},{"e":119,"train":0.0011,"val":0.001},{"e":124,"train":0.001,"val":0.0018},{"e":126,"train":0.001,"val":0.001},{"e":130,"train":0.001,"val":0.0009},{"e":134,"train":0.0009,"val":0.0009},{"e":136,"train":0.0009,"val":0.006},{"e":138,"train":0.0009,"val":0.0009},{"e":142,"train":0.0009,"val":0.0014},{"e":144,"train":0.0009,"val":0.0009},{"e":148,"train":0.0017,"val":0.0008},{"e":150,"train":0.0008,"val":0.0008},{"e":158,"train":0.0008,"val":0.0008},{"e":160,"train":0.0008,"val":0.0024},{"e":162,"train":0.0008,"val":0.0008},{"e":168,"train":0.0007,"val":0.0012},{"e":170,"train":0.0007,"val":0.0007},{"e":174,"train":0.0007,"val":0.0007},{"e":176,"train":0.0007,"val":0.0138},{"e":178,"train":0.0007,"val":0.0007},{"e":180,"train":0.0007,"val":0.0007},{"e":184,"train":0.0007,"val":0.0046},{"e":186,"train":0.0007,"val":0.0007},{"e":191,"train":0.0006,"val":0.0015},{"e":193,"train":0.0006,"val":0.0006},{"e":197,"train":0.0006,"val":0.0024},{"e":199,"train":0.0006,"val":0.0006},{"e":206,"train":0.0006,"val":0.0013},{"e":208,"train":0.0006,"val":0.0006},{"e":212,"train":0.0006,"val":0.0017},{"e":214,"train":0.0006,"val":0.0006},{"e":222,"train":0.0005,"val":0.0012},{"e":224,"train":0.0005,"val":0.0005},{"e":230,"train":0.0005,"val":0.001},{"e":232,"train":0.0005,"val":0.0005},{"e":240,"train":0.0005,"val":0.0009},{"e":242,"train":0.0005,"val":0.0005},{"e":254,"train":0.0004,"val":0.0004},{"e":256,"train":0.0004,"val":0.0013},{"e":258,"train":0.0004,"val":0.0004},{"e":270,"train":0.0004,"val":0.0008},{"e":272,"train":0.0004,"val":0.0004},{"e":290,"train":0.0004,"val":0.0008},{"e":292,"train":0.0004,"val":0.0004},{"e":305,"train":0.0004,"val":0.0008},{"e":307,"train":0.0004,"val":0.0004},{"e":323,"train":0.0003,"val":0.0003},{"e":325,"train":0.0003,"val":0.0013},{"e":327,"train":0.0003,"val":0.0003},{"e":338,"train":0.0003,"val":0.0008},{"e":340,"train":0.0003,"val":0.0003},{"e":350,"train":0.0003,"val":0.0003},{"e":352,"train":0.0003,"val":0.0028},{"e":354,"train":0.0003,"val":0.0003},{"e":363,"train":0.0003,"val":0.0003},{"e":365,"train":0.0003,"val":0.0046},{"e":367,"train":0.0003,"val":0.0003},{"e":375,"train":0.0003,"val":0.0003},{"e":377,"train":0.0003,"val":0.0029},{"e":379,"train":0.0003,"val":0.0003},{"e":396,"train":0.0003,"val":0.0003},{"e":398,"train":0.0003,"val":0.0007},{"e":400,"train":0.0003,"val":0.0003},{"e":416,"train":0.0003,"val":0.0007},{"e":418,"train":0.0003,"val":0.0003},{"e":435,"train":0.0003,"val":0.0003},{"e":437,"train":0.0003,"val":0.0029},{"e":439,"train":0.0003,"val":0.0003},{"e":457,"train":0.0003,"val":0.0003},{"e":459,"train":0.0003,"val":0.001},{"e":461,"train":0.0003,"val":0.0003},{"e":479,"train":0.0003,"val":0.0003},{"e":481,"train":0.0003,"val":0.0017},{"e":483,"train":0.0003,"val":0.0003},{"e":499,"train":0.0003,"val":0.0003}
],
"g": [
{"e":0,"train":0.0859,"val":0.082},{"e":1,"train":0.0841,"val":0.0821},{"e":3,"train":0.0837,"val":0.0824},{"e":5,"train":0.0835,"val":0.0827},{"e":7,"train":0.0834,"val":0.0834},{"e":9,"train":0.0833,"val":0.0822},{"e":12,"train":0.0832,"val":0.0826},{"e":16,"train":0.0831,"val":0.0823},{"e":19,"train":0.083,"val":0.0816},{"e":22,"train":0.082,"val":0.0802},{"e":25,"train":0.079,"val":0.0785},{"e":27,"train":0.0764,"val":0.0765},{"e":29,"train":0.073,"val":0.0735},{"e":31,"train":0.068,"val":0.0708},{"e":33,"train":0.064,"val":0.067},{"e":35,"train":0.0596,"val":0.0655},{"e":37,"train":0.0555,"val":0.0645},{"e":38,"train":0.0535,"val":0.06},{"e":40,"train":0.0513,"val":0.0575},{"e":41,"train":0.049,"val":0.0535},{"e":43,"train":0.0455,"val":0.0527},{"e":44,"train":0.043,"val":0.049},{"e":46,"train":0.0401,"val":0.0471},{"e":48,"train":0.0375,"val":0.0435},{"e":50,"train":0.035,"val":0.041},{"e":53,"train":0.0317,"val":0.0387},{"e":55,"train":0.029,"val":0.0355},{"e":57,"train":0.027,"val":0.0331},{"e":59,"train":0.0247,"val":0.029},{"e":61,"train":0.023,"val":0.0285},{"e":64,"train":0.0205,"val":0.0261},{"e":66,"train":0.019,"val":0.023},{"e":68,"train":0.0177,"val":0.0215},{"e":70,"train":0.0162,"val":0.021},{"e":72,"train":0.015,"val":0.0205},{"e":74,"train":0.014,"val":0.0175},{"e":76,"train":0.013,"val":0.017},{"e":79,"train":0.0122,"val":0.0145},{"e":81,"train":0.0114,"val":0.0156},{"e":84,"train":0.0105,"val":0.0125},{"e":86,"train":0.0098,"val":0.0138},{"e":89,"train":0.0087,"val":0.0142},{"e":91,"train":0.0082,"val":0.0105},{"e":94,"train":0.0076,"val":0.0112},{"e":96,"train":0.0072,"val":0.0095},{"e":98,"train":0.0068,"val":0.0115},{"e":101,"train":0.0065,"val":0.0078},{"e":104,"train":0.0062,"val":0.0082},{"e":107,"train":0.0059,"val":0.008},{"e":110,"train":0.0056,"val":0.0062},{"e":113,"train":0.0053,"val":0.0072},{"e":117,"train":0.005,"val":0.0066},{"e":120,"train":0.0047,"val":0.0055},{"e":124,"train":0.0045,"val":0.0063},{"e":127,"train":0.0042,"val":0.0048},{"e":130,"train":0.004,"val":0.0058},{"e":133,"train":0.0038,"val":0.0042},{"e":136,"train":0.0037,"val":0.0135},{"e":138,"train":0.0036,"val":0.0042},{"e":141,"train":0.0035,"val":0.0055},{"e":144,"train":0.0034,"val":0.0038},{"e":146,"train":0.0033,"val":0.0059},{"e":149,"train":0.0032,"val":0.0036},{"e":152,"train":0.0031,"val":0.0048},{"e":154,"train":0.003,"val":0.0034},{"e":157,"train":0.0029,"val":0.0045},{"e":160,"train":0.0028,"val":0.0032},{"e":163,"train":0.0028,"val":0.0052},{"e":165,"train":0.0027,"val":0.0063},{"e":167,"train":0.0027,"val":0.0031},{"e":170,"train":0.0026,"val":0.0052},{"e":173,"train":0.0025,"val":0.003},{"e":176,"train":0.0025,"val":0.0048},{"e":179,"train":0.0024,"val":0.0068},{"e":181,"train":0.0024,"val":0.0029},{"e":184,"train":0.0023,"val":0.0042},{"e":187,"train":0.0023,"val":0.0027},{"e":189,"train":0.0022,"val":0.0038},{"e":192,"train":0.0021,"val":0.0025},{"e":195,"train":0.0021,"val":0.0034},{"e":198,"train":0.002,"val":0.0023},{"e":200,"train":0.002,"val":0.0031},{"e":204,"train":0.002,"val":0.0022},{"e":208,"train":0.0019,"val":0.0033},{"e":211,"train":0.0019,"val":0.0021},{"e":214,"train":0.0018,"val":0.0038},{"e":217,"train":0.0018,"val":0.002},{"e":220,"train":0.0018,"val":0.0031},{"e":224,"train":0.0017,"val":0.002},{"e":228,"train":0.0017,"val":0.0035},{"e":230,"train":0.0017,"val":0.0019},{"e":232,"train":0.0016,"val":0.0045},{"e":235,"train":0.0016,"val":0.0018},{"e":238,"train":0.0016,"val":0.0031},{"e":241,"train":0.0015,"val":0.0017},{"e":245,"train":0.0015,"val":0.0038},{"e":248,"train":0.0014,"val":0.0017},{"e":251,"train":0.0014,"val":0.0026},{"e":253,"train":0.0014,"val":0.0016},{"e":256,"train":0.0014,"val":0.0052},{"e":258,"train":0.0013,"val":0.0016},{"e":261,"train":0.0013,"val":0.0073},{"e":263,"train":0.0013,"val":0.0015},{"e":266,"train":0.0013,"val":0.0026},{"e":268,"train":0.0013,"val":0.0015},{"e":271,"train":0.0012,"val":0.0031},{"e":274,"train":0.0012,"val":0.0014},{"e":278,"train":0.0012,"val":0.0022},{"e":281,"train":0.0011,"val":0.0013},{"e":285,"train":0.0011,"val":0.0024},{"e":289,"train":0.0011,"val":0.0013},{"e":293,"train":0.001,"val":0.0022},{"e":297,"train":0.001,"val":0.0035},{"e":300,"train":0.001,"val":0.0012},{"e":304,"train":0.001,"val":0.0022},{"e":308,"train":0.0009,"val":0.0011},{"e":312,"train":0.0009,"val":0.002},{"e":316,"train":0.0009,"val":0.0011},{"e":320,"train":0.0008,"val":0.0041},{"e":322,"train":0.0008,"val":0.001},{"e":326,"train":0.0008,"val":0.0018},{"e":330,"train":0.0008,"val":0.001},{"e":335,"train":0.0008,"val":0.0024},{"e":338,"train":0.0008,"val":0.001},{"e":342,"train":0.0008,"val":0.0017},{"e":347,"train":0.0007,"val":0.0009},{"e":351,"train":0.0007,"val":0.0018},{"e":356,"train":0.0007,"val":0.0009},{"e":360,"train":0.0007,"val":0.0017},{"e":362,"train":0.0007,"val":0.0041},{"e":365,"train":0.0007,"val":0.0009},{"e":370,"train":0.0007,"val":0.0015},{"e":375,"train":0.0007,"val":0.0008},{"e":380,"train":0.0007,"val":0.0015},{"e":385,"train":0.0006,"val":0.0024},{"e":388,"train":0.0006,"val":0.0008},{"e":393,"train":0.0006,"val":0.0013},{"e":398,"train":0.0006,"val":0.0008},{"e":403,"train":0.0006,"val":0.0013},{"e":408,"train":0.0006,"val":0.0007},{"e":413,"train":0.0006,"val":0.0012},{"e":418,"train":0.0006,"val":0.0007},{"e":422,"train":0.0006,"val":0.0017},{"e":426,"train":0.0006,"val":0.0007},{"e":431,"train":0.0005,"val":0.0012},{"e":436,"train":0.0005,"val":0.0007},{"e":439,"train":0.0005,"val":0.0029},{"e":442,"train":0.0005,"val":0.0007},{"e":447,"train":0.0005,"val":0.0012},{"e":452,"train":0.0005,"val":0.0006},{"e":456,"train":0.0005,"val":0.0011},{"e":459,"train":0.0005,"val":0.0026},{"e":462,"train":0.0005,"val":0.0006},{"e":467,"train":0.0005,"val":0.0011},{"e":472,"train":0.0005,"val":0.0006},{"e":477,"train":0.0005,"val":0.001},{"e":482,"train":0.0004,"val":0.0006},{"e":487,"train":0.0004,"val":0.0017},{"e":490,"train":0.0004,"val":0.0006},{"e":494,"train":0.0004,"val":0.0009},{"e":499,"train":0.0004,"val":0.0004}
]
},
"spacing": 46.5,
"resolve": {"scale": {"color": "independent"}, "legend": {"color": "independent"}},
"vconcat": [
{"spacing": 49, "resolve": {"scale": {"color": "independent"}, "legend": {"color": "independent"}}, "vconcat": [
{"spacing": 19, "resolve": {"scale": {"color": "independent"}, "legend": {"color": "independent"}}, "hconcat": [
 {"width": 429, "height": 226, "title": {"text": "(a) 6th-Order"}, "data": {"name": "a"}, "transform": [{"fold": ["train", "val"], "as": ["variable", "loss"]}], "mark": {"type": "line", "strokeWidth": 1.3}, "encoding": {"x": {"field": "e", "type": "quantitative", "scale": {"domain": [-25, 525], "nice": false, "zero": false}, "axis": {"values": [0, 100, 200, 300, 400, 500], "title": "Epochs"}}, "y": {"field": "loss", "type": "quantitative", "scale": {"domain": [-0.0045, 0.099], "nice": false, "zero": false}, "axis": {"values": [0, 0.02, 0.04, 0.06, 0.08], "format": ".2f", "title": "Validation Loss"}}, "color": {"field": "variable", "type": "nominal", "scale": {"domain": ["train", "val"], "range": ["#1f77b4", "#ff7f0e"]}, "legend": {"title": "variable"}}}},
 {"width": 430, "height": 227, "title": {"text": "(b) 7th-Order"}, "data": {"name": "b"}, "transform": [{"fold": ["train", "val"], "as": ["variable", "loss"]}], "mark": {"type": "line", "strokeWidth": 1.3}, "encoding": {"x": {"field": "e", "type": "quantitative", "scale": {"domain": [-25, 525], "nice": false, "zero": false}, "axis": {"values": [0, 100, 200, 300, 400, 500], "title": "Epochs"}}, "y": {"field": "loss", "type": "quantitative", "scale": {"domain": [-0.0046, 0.1016], "nice": false, "zero": false}, "axis": {"values": [0, 0.02, 0.04, 0.06, 0.08, 0.1], "labelExpr": "datum.value > 0.09 ? '0.1' : format(datum.value, '.2f')", "title": "Validation Loss"}}, "color": {"field": "variable", "type": "nominal", "scale": {"domain": ["train", "val"], "range": ["#1f77b4", "#ff7f0e"]}, "legend": {"title": "variable"}}}}
]},
{"spacing": 21, "resolve": {"scale": {"color": "independent"}, "legend": {"color": "independent"}}, "hconcat": [
 {"width": 432, "height": 228, "title": {"text": "(c) 8th-Order"}, "data": {"name": "c"}, "transform": [{"fold": ["train", "val"], "as": ["variable", "loss"]}], "mark": {"type": "line", "strokeWidth": 1.3}, "encoding": {"x": {"field": "e", "type": "quantitative", "scale": {"domain": [-25, 525], "nice": false, "zero": false}, "axis": {"values": [0, 100, 200, 300, 400, 500], "title": "Epochs"}}, "y": {"field": "loss", "type": "quantitative", "scale": {"domain": [-0.005, 0.111], "nice": false, "zero": false}, "axis": {"values": [0, 0.02, 0.04, 0.06, 0.08, 0.1], "labelExpr": "datum.value > 0.09 ? '0.1' : format(datum.value, '.2f')", "title": "Validation Loss"}}, "color": {"field": "variable", "type": "nominal", "scale": {"domain": ["train", "val"], "range": ["#1f77b4", "#ff7f0e"]}, "legend": {"title": "variable"}}}},
 {"width": 425, "height": 224, "title": {"text": "(d) 9th-Order"}, "data": {"name": "d"}, "transform": [{"fold": ["train", "val"], "as": ["variable", "loss"]}], "mark": {"type": "line", "strokeWidth": 1.3}, "encoding": {"x": {"field": "e", "type": "quantitative", "scale": {"domain": [-25, 525], "nice": false, "zero": false}, "axis": {"values": [0, 100, 200, 300, 400, 500], "title": "Epochs"}}, "y": {"field": "loss", "type": "quantitative", "scale": {"domain": [-0.0045, 0.101], "nice": false, "zero": false}, "axis": {"values": [0, 0.02, 0.04, 0.06, 0.08, 0.1], "labelExpr": "datum.value > 0.09 ? '0.1' : format(datum.value, '.2f')", "title": "Validation Loss"}}, "color": {"field": "variable", "type": "nominal", "scale": {"domain": ["train", "val"], "range": ["#1f77b4", "#ff7f0e"]}, "legend": {"title": "variable"}}}}
]}
]},
{"spacing": 42.5, "resolve": {"scale": {"color": "independent"}, "legend": {"color": "independent"}}, "vconcat": [
{"spacing": 17, "resolve": {"scale": {"color": "independent"}, "legend": {"color": "independent"}}, "hconcat": [
 {"width": 430, "height": 226, "title": {"text": "(e) 10th-Order"}, "data": {"name": "e"}, "transform": [{"fold": ["train", "val"], "as": ["variable", "loss"]}], "mark": {"type": "line", "strokeWidth": 1.3}, "encoding": {"x": {"field": "e", "type": "quantitative", "scale": {"domain": [-25, 525], "nice": false, "zero": false}, "axis": {"values": [0, 100, 200, 300, 400, 500], "title": "Epochs"}}, "y": {"field": "loss", "type": "quantitative", "scale": {"domain": [-0.0044, 0.0964], "nice": false, "zero": false}, "axis": {"values": [0, 0.02, 0.04, 0.06, 0.08], "format": ".2f", "title": "Validation Loss"}}, "color": {"field": "variable", "type": "nominal", "scale": {"domain": ["train", "val"], "range": ["#1f77b4", "#ff7f0e"]}, "legend": {"title": "variable"}}}},
 {"width": 428, "height": 225, "title": {"text": "(f) 11th-Order"}, "data": {"name": "f"}, "transform": [{"fold": ["train", "val"], "as": ["variable", "loss"]}], "mark": {"type": "line", "strokeWidth": 1.3}, "encoding": {"x": {"field": "e", "type": "quantitative", "scale": {"domain": [-25, 525], "nice": false, "zero": false}, "axis": {"values": [0, 100, 200, 300, 400, 500], "title": "Epochs"}}, "y": {"field": "loss", "type": "quantitative", "scale": {"domain": [-0.0042, 0.092], "nice": false, "zero": false}, "axis": {"values": [0, 0.02, 0.04, 0.06, 0.08], "format": ".2f", "title": "Validation Loss"}}, "color": {"field": "variable", "type": "nominal", "scale": {"domain": ["train", "val"], "range": ["#1f77b4", "#ff7f0e"]}, "legend": {"title": "variable"}}}}
]},
{"width": 430, "height": 224, "title": {"text": "(g) 12th-Order"}, "data": {"name": "g"}, "transform": [{"fold": ["train", "val"], "as": ["variable", "loss"]}], "mark": {"type": "line", "strokeWidth": 1.3}, "encoding": {"x": {"field": "e", "type": "quantitative", "scale": {"domain": [-25, 525], "nice": false, "zero": false}, "axis": {"values": [0, 100, 200, 300, 400, 500], "title": "Epochs"}}, "y": {"field": "loss", "type": "quantitative", "scale": {"domain": [-0.0038, 0.0902], "nice": false, "zero": false}, "axis": {"values": [0, 0.02, 0.04, 0.06, 0.08], "format": ".2f", "title": "Validation Loss"}}, "color": {"field": "variable", "type": "nominal", "scale": {"domain": ["train", "val"], "range": ["#1f77b4", "#ff7f0e"]}, "legend": {"title": "variable"}}}}
]}
]
}
